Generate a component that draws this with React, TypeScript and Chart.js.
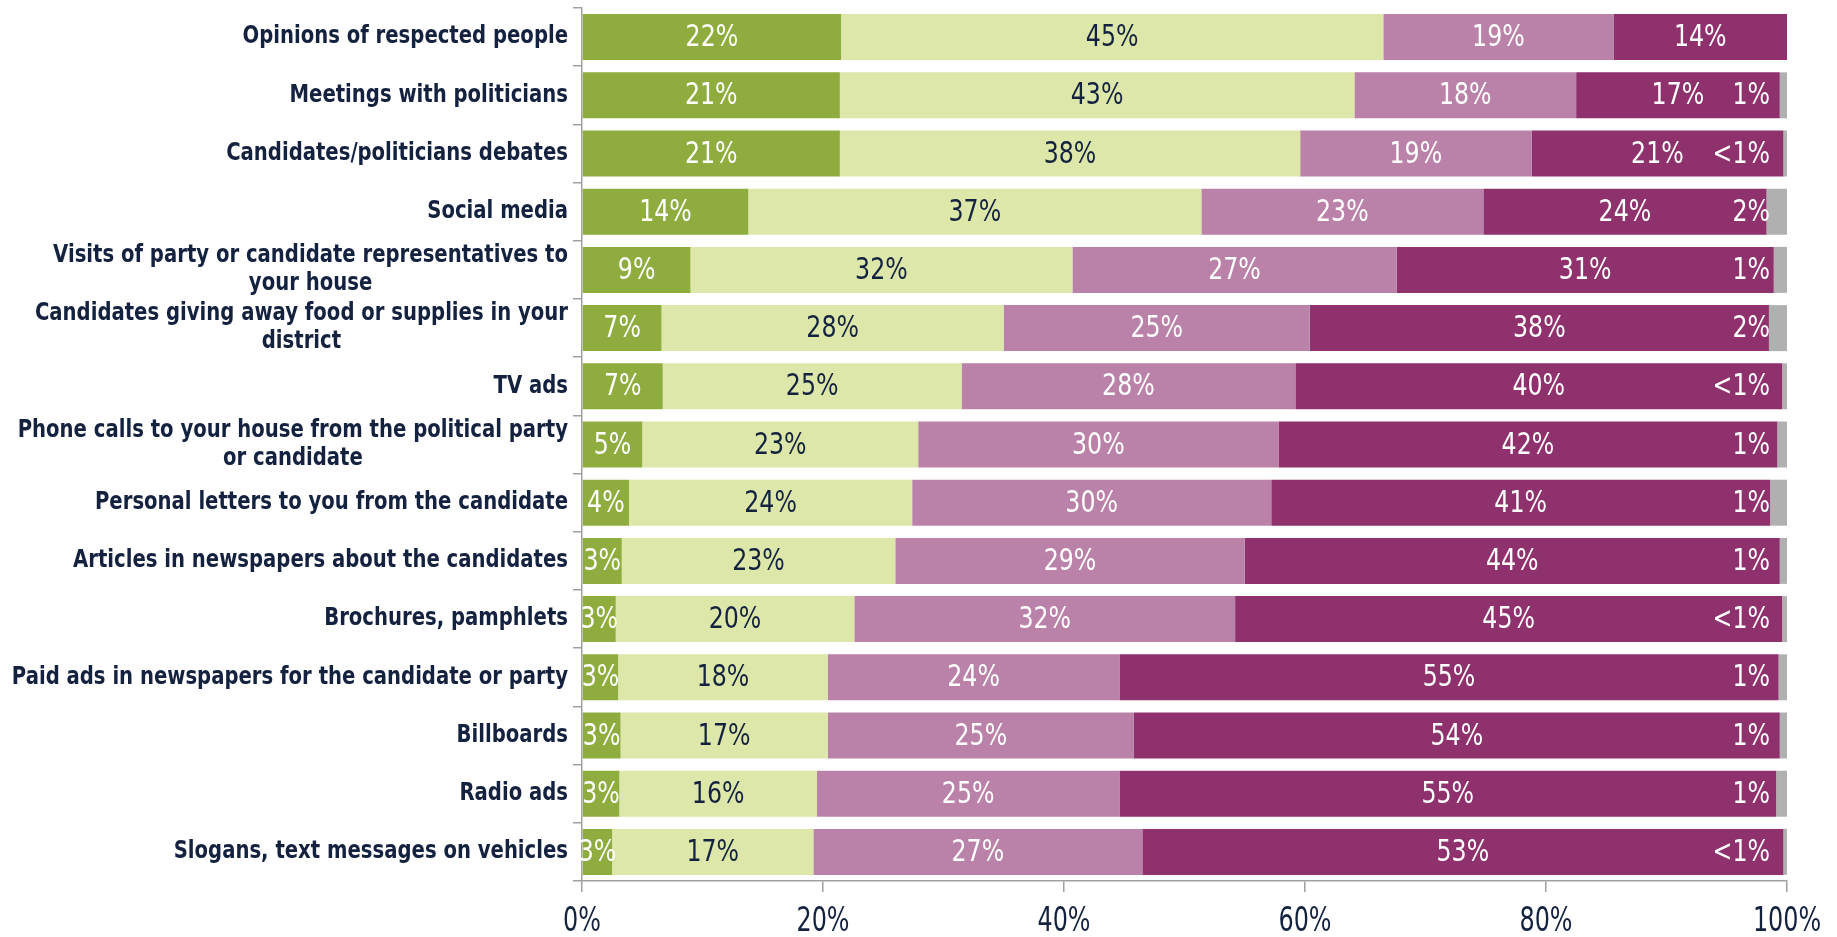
import React, { useEffect, useRef } from 'react';
import { Chart, registerables } from 'chart.js';
Chart.register(...registerables);

const categories: string[][] = [
  ['Opinions of respected people'],
  ['Meetings with politicians'],
  ['Candidates/politicians debates'],
  ['Social media'],
  ['Visits of party or candidate representatives to', 'your house'],
  ['Candidates giving away food or supplies in your', 'district'],
  ['TV ads'],
  ['Phone calls to your house from the political party', 'or candidate'],
  ['Personal letters to you from the candidate'],
  ['Articles in newspapers about the candidates'],
  ['Brochures, pamphlets'],
  ['Paid ads in newspapers for the candidate or party'],
  ['Billboards'],
  ['Radio ads'],
  ['Slogans, text messages on vehicles'],
];

const seriesNames = ['Very influential', 'Somewhat influential', 'Not very influential', 'Not at all influential', "Don't know"];

const veryValues = [21.5, 21.4, 21.4, 13.8, 9.0, 6.6, 6.7, 5.0, 3.9, 3.3, 2.8, 3.0, 3.2, 3.1, 2.5];
const somewhatValues = [45.0, 42.7, 38.2, 37.6, 31.7, 28.4, 24.8, 22.9, 23.5, 22.7, 19.8, 17.4, 17.2, 16.4, 16.7];
const notVeryValues = [19.1, 18.4, 19.2, 23.4, 26.9, 25.4, 27.7, 29.9, 29.8, 29.0, 31.6, 24.2, 25.4, 25.1, 27.3];
const notAtAllValues = [14.4, 16.9, 20.9, 23.5, 31.3, 38.1, 40.4, 41.4, 41.4, 44.4, 45.4, 54.7, 53.6, 54.5, 53.2];
const dontKnowValues = [0, 0.6, 0.3, 1.7, 1.1, 1.5, 0.4, 0.8, 1.4, 0.6, 0.4, 0.7, 0.6, 0.9, 0.3];

const veryLabels = ['22%', '21%', '21%', '14%', '9%', '7%', '7%', '5%', '4%', '3%', '3%', '3%', '3%', '3%', '3%'];
const somewhatLabels = ['45%', '43%', '38%', '37%', '32%', '28%', '25%', '23%', '24%', '23%', '20%', '18%', '17%', '16%', '17%'];
const notVeryLabels = ['19%', '18%', '19%', '23%', '27%', '25%', '28%', '30%', '30%', '29%', '32%', '24%', '25%', '25%', '27%'];
const notAtAllLabels = ['14%', '17%', '21%', '24%', '31%', '38%', '40%', '42%', '41%', '44%', '45%', '55%', '54%', '55%', '53%'];
const dontKnowLabels = ['', '1%', '<1%', '2%', '1%', '2%', '<1%', '1%', '1%', '1%', '<1%', '1%', '1%', '1%', '<1%'];

const xTicks = [0, 20, 40, 60, 80, 100];

const colors = ['#8FAD3E', '#DCE7A9', '#BA82A8', '#8E316C', '#B0B0B0'];
const labelColors = ['#FFFFFF', '#14223F', '#FFFFFF', '#FFFFFF', '#FFFFFF'];
const NAVY = '#14223F';
const NARROW = "'DejaVu Sans Condensed', 'DejaVu Sans', sans-serif";
const VAL_SX = 0.85;
const TICK_SX = 0.78;
const CAT_SX = 0.91;

function drawScaled(ctx: CanvasRenderingContext2D, text: string, x: number, y: number, sx: number) {
  ctx.save();
  ctx.translate(x, y);
  ctx.scale(sx, 1);
  ctx.fillText(text, 0, 0);
  ctx.restore();
}

export default function App() {
  const ref = useRef<HTMLCanvasElement | null>(null);
  useEffect(() => {
    if (!ref.current) return;
    const allValues = [veryValues, somewhatValues, notVeryValues, notAtAllValues, dontKnowValues];
    const allLabels = [veryLabels, somewhatLabels, notVeryLabels, notAtAllLabels, dontKnowLabels];

    const valueLabelPlugin = {
      id: 'valueLabels',
      afterDatasetsDraw(chart: any) {
        const ctx = chart.ctx;
        ctx.save();
        ctx.font = `31px ${NARROW}`;
        ctx.textBaseline = 'middle';
        chart.data.datasets.forEach((ds: any, i: number) => {
          const meta = chart.getDatasetMeta(i);
          meta.data.forEach((bar: any, j: number) => {
            const text = allLabels[i][j];
            if (!text) return;
            const p = bar.getProps(['x', 'y', 'base'], true);
            ctx.fillStyle = labelColors[i];
            if (i === 4) {
              ctx.textAlign = 'right';
              drawScaled(ctx, text, chart.chartArea.right - 17, p.y + 1, VAL_SX);
            } else {
              ctx.textAlign = 'center';
              drawScaled(ctx, text, (p.x + p.base) / 2, p.y + 1, VAL_SX);
            }
          });
        });
        // x tick labels
        const xs = chart.scales.x;
        ctx.font = `34px ${NARROW}`;
        ctx.fillStyle = NAVY;
        ctx.textAlign = 'center';
        xTicks.forEach((v) => {
          drawScaled(ctx, `${v}%`, xs.getPixelForValue(v), 922, TICK_SX);
        });
        ctx.restore();
      },
    };

    const catLabelPlugin = {
      id: 'catLabels',
      afterDraw(chart: any) {
        const ctx = chart.ctx;
        const yScale = chart.scales.y;
        ctx.save();
        ctx.font = `bold 24px ${NARROW}`;
        ctx.fillStyle = NAVY;
        ctx.textBaseline = 'middle';
        ctx.textAlign = 'center';
        const rightX = chart.chartArea.left - 14;
        const lh = 28;
        categories.forEach((lines, j) => {
          const yc = yScale.getPixelForTick(j);
          const w = Math.max(...lines.map((l) => ctx.measureText(l).width)) * CAT_SX;
          const cx = rightX - w / 2;
          lines.forEach((l, k) => {
            const y = yc + (k - (lines.length - 1) / 2) * lh;
            drawScaled(ctx, l, cx, y, CAT_SX);
          });
        });
        ctx.restore();
      },
    };

    const chart = new Chart(ref.current, {
      type: 'bar',
      data: {
        labels: categories,
        datasets: allValues.map((vals, i) => ({
          label: seriesNames[i],
          data: vals,
          backgroundColor: colors[i],
          borderWidth: 0,
          barPercentage: 0.79,
          categoryPercentage: 1,
        })),
      },
      options: {
        indexAxis: 'y',
        animation: false,
        responsive: false,
        maintainAspectRatio: false,
        layout: { padding: { top: 8, right: 50, left: 0, bottom: 0 } },
        plugins: { legend: { display: false }, tooltip: { enabled: false } },
        scales: {
          x: {
            stacked: true,
            min: 0,
            max: 100,
            afterBuildTicks: (s: any) => {
              s.ticks = xTicks.map((v) => ({ value: v }));
            },
            afterFit: (s: any) => {
              s.height = 56;
            },
            ticks: { display: false },
            grid: { drawOnChartArea: false, drawTicks: true, tickLength: 11, color: '#A0A0A0', lineWidth: 1.5 },
            border: { display: true, color: '#A0A0A0', width: 1.5 },
          },
          y: {
            stacked: true,
            afterFit: (s: any) => {
              s.width = 582;
            },
            ticks: { display: false },
            grid: { drawOnChartArea: false, drawTicks: true, tickLength: 9, color: '#A0A0A0', lineWidth: 1.5 },
            border: { display: true, color: '#A0A0A0', width: 1.5 },
          },
        },
      },
      plugins: [valueLabelPlugin, catLabelPlugin],
    });
    return () => chart.destroy();
  }, []);

  return (
    <div style={{ position: 'fixed', left: 0, top: 0, width: '1837px', height: '937px', background: '#fff' }}>
      <canvas ref={ref} width={1837} height={937} style={{ width: '1837px', height: '937px', display: 'block' }} />
    </div>
  );
}
